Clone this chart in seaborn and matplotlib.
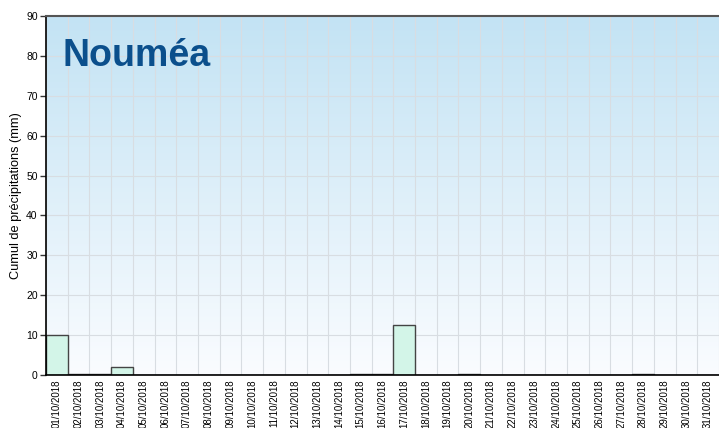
import numpy as np
import pandas as pd
import matplotlib.pyplot as plt
import seaborn as sns

# ------------------------------------------
# Data
# ------------------------------------------
days = [f"{d:02d}/10/2018" for d in range(1, 32)]
rain = [10, 0.2, 0.2, 2, 0, 0, 0, 0, 0, 0,
        0, 0, 0, 0, 0.2, 0.2, 12.5, 0, 0, 0.2,
        0, 0, 0, 0, 0, 0, 0, 0.2, 0, 0, 0]
y_ticks = list(range(0, 91, 10))
station = "Nouméa"

df = pd.DataFrame({"day": days, "rain": rain})

# ------------------------------------------
# Plot
# ------------------------------------------
sns.set_style("ticks")
plt.rcParams["font.family"] = ["Liberation Sans", "DejaVu Sans"]

fig = plt.figure(figsize=(7.19, 4.28), dpi=100)
ax = fig.add_axes([46 / 719, 1 - 375 / 428, 673 / 719, 359 / 428])

# gradient background
grad = np.linspace(0, 1, 256).reshape(-1, 1)
top = np.array([0xc3, 0xe3, 0xf4]) / 255
bot = np.array([0xfa, 0xfc, 0xff]) / 255
img = top * (1 - grad)[..., None] + bot * grad[..., None]
img = img.reshape(256, 1, 3)
ax.imshow(img, aspect="auto", extent=[0, 1, 0, 1], transform=ax.transAxes, zorder=0)

sns.barplot(data=df, x="day", y="rain", width=1.0, color="#d3f5e8",
            edgecolor="#444444", linewidth=1.0, saturation=1, ax=ax, zorder=3)

ax.set_xlim(-0.5, len(days) - 0.5)
ax.set_ylim(0, 90)
ax.set_yticks(y_ticks)
ax.set_yticklabels([str(v) for v in y_ticks], fontsize=7.5, color="black")
ax.set_xticks(range(len(days)))
ax.set_xticklabels(days, rotation=90, fontsize=7, ha="center", va="top", color="black")
ax.tick_params(axis="x", length=0, pad=3)
ax.tick_params(axis="y", length=4, width=1, color="#333333", pad=2)

# grid at bar edges
for i in range(len(days) + 1):
    ax.axvline(i - 0.5, color="#d8dde2", lw=0.8, zorder=1)
for v in y_ticks:
    ax.axhline(v, color="#d8dde2", lw=0.8, zorder=1)

ax.set_xlabel("")
ax.set_ylabel("Cumul de précipitations (mm)", fontsize=9.2, color="black")
ax.yaxis.set_label_coords(-0.035, 0.5)

for side in ["left", "bottom"]:
    ax.spines[side].set_color("black")
    ax.spines[side].set_linewidth(1.2)
ax.spines["top"].set_color("#555555")
ax.spines["top"].set_linewidth(1.5)
ax.spines["right"].set_visible(False)
for s in ax.spines.values():
    s.set_zorder(5)

ax.text(0.024, 0.94, station, transform=ax.transAxes, fontsize=27,
        fontweight="bold", color="#0b4f8c", va="top", ha="left", zorder=6)

plt.savefig("out.png", dpi=100)
